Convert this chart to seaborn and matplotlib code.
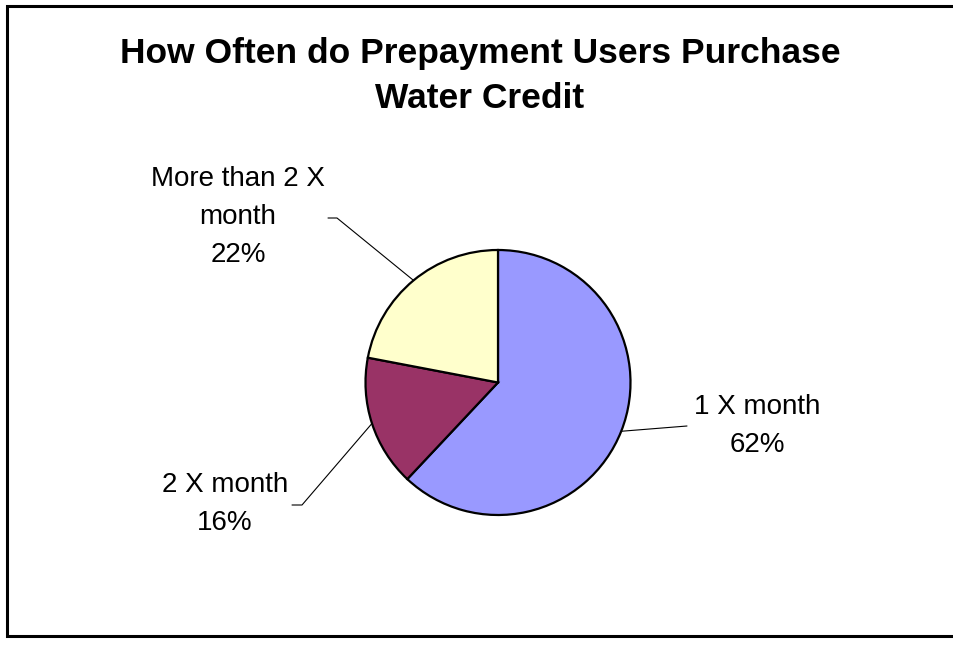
import numpy as np
import matplotlib
matplotlib.use("Agg")
import matplotlib.pyplot as plt
import seaborn as sns

# Survey shares, clockwise from 12 o'clock
categories = ["1 X month", "2 X month", "More than 2 X\nmonth"]
shares = [62, 16, 22]
slice_colors = ["#9999FF", "#993366", "#FFFFCC"]
title_text = "How Often do Prepayment Users Purchase\nWater Credit"

sns.set_theme(style="white")
plt.rcParams["font.family"] = ["Liberation Sans", "DejaVu Sans"]

W, H = 954, 646
fig = plt.figure(figsize=(W / 100, H / 100), dpi=100)
fig.patch.set_facecolor("white")
# Axes in pixel units (y measured downward from the top edge)
ax = fig.add_axes([0, 0, 1, 1])

cx, cy, r = 498.0, 382.5, 132.5
palette = sns.color_palette(slice_colors)
# y axis is inverted, so counterclock=True runs clockwise on screen
wedges, _ = ax.pie(shares, colors=palette, startangle=-90, counterclock=True,
                   center=(cx, cy), radius=r, frame=True,
                   wedgeprops=dict(edgecolor="black", linewidth=1.6))
ax.set_xlim(0, W)
ax.set_ylim(H, 0)
ax.set_aspect("equal")
ax.set_axis_off()

# chart frame
ax.plot([W + 5, 7, 7, W + 5], [6, 6, 636, 636], color="black", lw=2.2,
        solid_joinstyle="miter", clip_on=False)

total = sum(shares)
# label block centre and leader elbow for each slice (pixel offsets)
label_pos = [(757, 426), (225, 504), (238, 217)]
elbows = [[(687, 426)], [(302, 505), (292, 505)], [(337, 218), (328, 218)]]

for w, name, val, (lx, ly), elb in zip(wedges, categories, shares, label_pos, elbows):
    mid = np.deg2rad((w.theta1 + w.theta2) / 2)
    ex, ey = cx + r * np.cos(mid), cy + r * np.sin(mid)
    xs = [ex] + [p[0] for p in elb]
    ys = [ey] + [p[1] for p in elb]
    ax.plot(xs, ys, color="black", lw=0.8)
    ax.text(lx, ly, f"{name}\n{round(val / total * 100)}%", ha="center",
            va="center", fontsize=20, linespacing=1.6, color="black")

ax.text(480, 76, title_text, ha="center", va="center", fontsize=25.5,
        fontweight="bold", linespacing=1.5, color="black")

fig.savefig("out.png", dpi=100, facecolor="white")
